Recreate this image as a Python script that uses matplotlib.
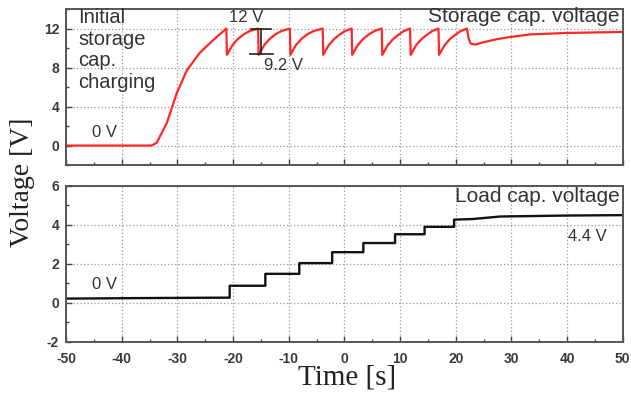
import matplotlib.pyplot as plt
from matplotlib.ticker import MultipleLocator

plt.rcParams['axes.unicode_minus'] = False

# storage capacitor voltage
storage_t = [-50, -34.6, -33.7, -31.9, -30.1, -28.3, -26.0, -23.6, -21.2,
             -21.1, -20.1, -19.1, -18.1, -17.0, -15.5,
             -15.4, -14.4, -13.4, -12.4, -11.3, -9.8,
             -9.7, -8.7, -7.7, -6.7, -5.5, -3.9,
             -3.8, -2.8, -1.8, -0.8, 0.1, 1.3,
             1.4, 2.4, 3.4, 4.4, 5.4, 6.7,
             6.8, 7.8, 8.8, 9.8, 10.7, 11.8,
             11.9, 12.9, 13.9, 14.9, 15.8, 16.9,
             17.0, 18.0, 19.0, 20.0, 20.9, 22.0,
             22.3, 22.7, 23.5, 25.0, 27.3, 30.0, 33.4, 40.0, 50.0]
storage_v = [0, 0, 0.3, 2.3, 5.4, 7.7, 9.5, 10.8, 12.0,
             9.3, 10.3, 10.95, 11.4, 11.75, 12.0,
             9.3, 10.3, 10.95, 11.4, 11.75, 12.0,
             9.3, 10.3, 10.95, 11.4, 11.75, 12.0,
             9.3, 10.3, 10.95, 11.4, 11.75, 12.0,
             9.3, 10.3, 10.95, 11.4, 11.75, 12.0,
             9.3, 10.3, 10.95, 11.4, 11.75, 12.0,
             9.3, 10.3, 10.95, 11.4, 11.75, 12.0,
             9.3, 10.3, 10.95, 11.4, 11.75, 12.0,
             11.0, 10.45, 10.35, 10.6, 10.9, 11.15, 11.4, 11.55, 11.65]

# load capacitor voltage (steps)
load_t = [-50, -35, -20.6, -20.6, -14.2, -14.2, -8.1, -8.1, -2.2, -2.2,
          3.4, 3.4, 9.1, 9.1, 14.4, 14.4, 19.7, 19.7, 23.0, 28.0, 40.0, 50.0]
load_v = [0.22, 0.25, 0.27, 0.88, 0.88, 1.49, 1.49, 2.04, 2.04, 2.6,
          2.6, 3.07, 3.07, 3.52, 3.52, 3.9, 3.9, 4.27, 4.3, 4.43, 4.48, 4.5]

sans = ['Liberation Sans', 'DejaVu Sans']
serif = ['Liberation Serif', 'DejaVu Serif']
txt = '#333333'

fig = plt.figure(figsize=(6.31, 3.93), dpi=100)
ax1 = fig.add_axes([0.1046, 0.580, 0.8824, 0.397])
ax2 = fig.add_axes([0.1046, 0.130, 0.8824, 0.397])

ax1.set_ylim(-2, 14)
ax1.set_yticks([0, 4, 8, 12])
ax1.yaxis.set_minor_locator(MultipleLocator(2))
ax1.plot(storage_t, storage_v, color='#ff2626', linewidth=1.6)

ax2.set_ylim(-2, 6)
ax2.yaxis.set_major_locator(MultipleLocator(2))
ax2.yaxis.set_minor_locator(MultipleLocator(1))
ax2.plot(load_t, load_v, color='#111111', linewidth=1.7)

for ax in (ax1, ax2):
    ax.set_xlim(-50, 50)
    ax.xaxis.set_major_locator(MultipleLocator(10))
    ax.xaxis.set_minor_locator(MultipleLocator(5))
    ax.grid(True, which='major', color='#9a9a9a', linestyle=(0, (1, 1.8)), linewidth=0.9)
    ax.tick_params(which='major', direction='in', length=4, width=1, color='#444444',
                   labelsize=10, labelcolor='#3a3a3a', top=False, right=False)
    ax.tick_params(which='minor', direction='in', length=2.5, width=1, color='#444444',
                   top=False, right=False)
    for s in ax.spines.values():
        s.set_linewidth(1.4)
        s.set_color('#555555')
ax1.tick_params(labelbottom=False)
ax2.tick_params(axis='x', pad=7)
ax2.tick_params(axis='y', pad=5)
ax1.tick_params(axis='y', pad=5)

for lab in ax1.get_yticklabels() + ax2.get_xticklabels() + ax2.get_yticklabels():
    lab.set_family(sans)
    lab.set_fontweight('bold')

# annotations top
ax1.text(-47.8, 14.1, 'Initial\nstorage\ncap.\ncharging', family=sans, fontsize=14.5,
         color=txt, va='top', ha='left', linespacing=1.18)
ax1.text(-43, 1.35, '0 V', family=sans, fontsize=12, color=txt, ha='center', va='center')
ax1.text(-17.6, 13.1, '12 V', family=sans, fontsize=12, color=txt, ha='center', va='center')
ax1.text(-11.0, 8.2, '9.2 V', family=sans, fontsize=12, color=txt, ha='center', va='center')
ax1.plot([-16.7, -13.1], [12, 12], color='#222222', linewidth=1.2)
ax1.plot([-17.0, -12.8], [9.4, 9.4], color='#222222', linewidth=1.2)
ax1.plot([-15.0, -15.0], [12, 9.4], color='#222222', linewidth=1.2)
ax1.text(49.4, 13.2, 'Storage cap. voltage', family=sans, fontsize=15, color=txt,
         ha='right', va='center')

# annotations bottom
ax2.text(-43, 0.95, '0 V', family=sans, fontsize=12, color=txt, ha='center', va='center')
ax2.text(49.4, 5.45, 'Load cap. voltage', family=sans, fontsize=15, color=txt,
         ha='right', va='center')
ax2.text(40.1, 3.4, '4.4 V', family=sans, fontsize=12, color=txt, ha='left', va='center')

fig.text(0.035, 0.537, 'Voltage [V]', family=serif, fontsize=20, color='#222222',
         rotation=90, ha='center', va='center')
fig.text(0.55, 0.04, 'Time [s]', family=serif, fontsize=21, color='#222222',
         ha='center', va='center')

fig.savefig('out.png', dpi=100)
